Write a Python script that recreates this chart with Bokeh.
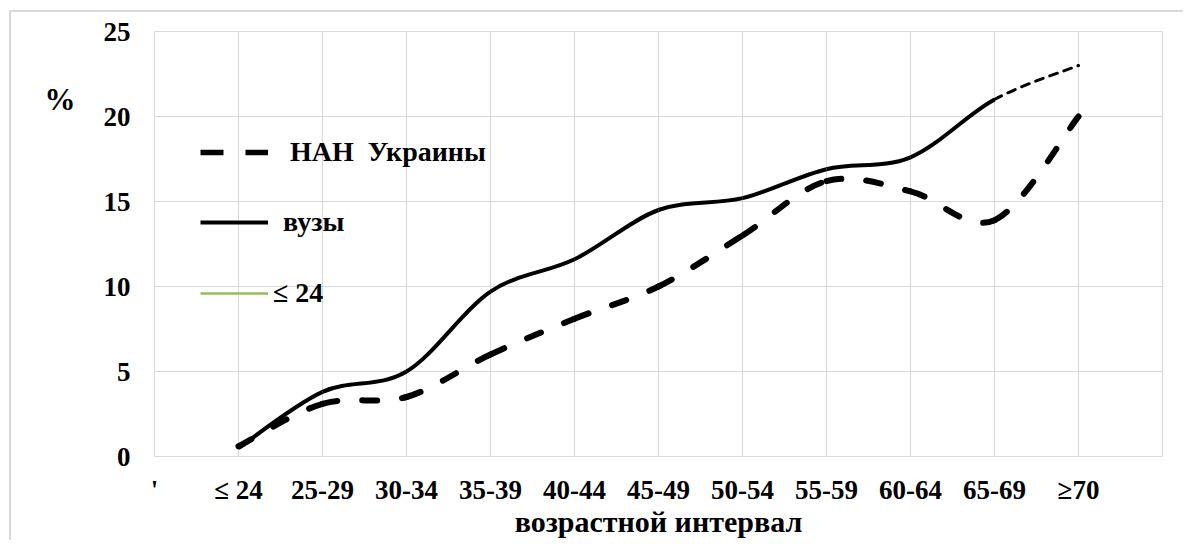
from bokeh.plotting import figure
from bokeh.models import (Range1d, FixedTicker, Legend, LegendItem, ColumnDataSource,
                          LinearAxis)
from bokeh.embed import file_html
from bokeh.resources import INLINE

# ---- data ----
categories = ["'", "≤ 24", "25-29", "30-34", "35-39", "40-44", "45-49",
              "50-54", "55-59", "60-64", "65-69", "≥70"]
nan_ukr = [0.6, 3.1, 3.5, 6.0, 8.1, 10.0, 13.0, 16.2, 15.6, 13.9, 20.0]
vuzy = [0.5, 3.8, 5.0, 9.7, 11.6, 14.5, 15.2, 16.9, 17.6, 21.0, 23.0]
y_ticks = [0, 5, 10, 15, 20, 25]
series_names = ["НАН  Украины", "вузы", "≤ 24"]
x_title = "возрастной интервал"
y_title = "%"
y_title_level = 21

FONT = "Liberation Serif"
NAN = float("nan")


def smooth_segments(ys, start=1):
    """Cubic Bezier segments (Excel-like smoothing) through the data points."""
    pts = [(start + i, v) for i, v in enumerate(ys)]
    n = len(pts)
    d = dict(x0=[], y0=[], x1=[], y1=[], cx0=[], cy0=[], cx1=[], cy1=[])
    for i in range(n - 1):
        p0 = pts[i - 1] if i > 0 else pts[i]
        p1 = pts[i]
        p2 = pts[i + 1]
        p3 = pts[i + 2] if i + 2 < n else pts[i + 1]
        d["x0"].append(p1[0]); d["y0"].append(p1[1])
        d["x1"].append(p2[0]); d["y1"].append(p2[1])
        d["cx0"].append(p1[0] + (p2[0] - p0[0]) / 6.0)
        d["cy0"].append(p1[1] + (p2[1] - p0[1]) / 6.0)
        d["cx1"].append(p2[0] - (p3[0] - p1[0]) / 6.0)
        d["cy1"].append(p2[1] - (p3[1] - p1[1]) / 6.0)
    return d


p = figure(width=1174, height=530, output_backend="svg", toolbar_location=None,
           x_range=Range1d(0, 12), y_range=Range1d(0, 25),
           min_border_left=143, min_border_right=23, min_border_top=19,
           min_border_bottom=86)
p.styles = {"margin-left": "9px", "margin-top": "10px",
            "border-top": "2px solid #d9d9d9", "border-left": "2px solid #d9d9d9"}

p.outline_line_color = "#d9d9d9"
p.outline_line_width = 1
p.background_fill_color = "white"
p.border_fill_color = "white"

# axes
p.xaxis.ticker = FixedTicker(ticks=list(range(len(categories))))
p.xaxis.major_label_overrides = {i: c for i, c in enumerate(categories)}
p.yaxis.ticker = FixedTicker(ticks=y_ticks)
for ax in (p.xaxis, p.yaxis):
    ax.axis_line_color = None
    ax.major_tick_line_color = None
    ax.minor_tick_line_color = None
    ax.major_label_text_font = FONT
    ax.major_label_text_font_style = "bold"
    ax.major_label_text_font_size = "27px"
    ax.major_label_text_color = "black"
p.yaxis.major_label_standoff = 18
p.xaxis.major_label_standoff = 12
p.xaxis.axis_label = x_title
p.xaxis.axis_label_text_font = FONT
p.xaxis.axis_label_text_font_style = "bold"
p.xaxis.axis_label_text_font_size = "30px"
p.xaxis.axis_label_text_color = "black"
p.xaxis.axis_label_standoff = -3

# "%" as a horizontal label on an extra left axis
pct_axis = LinearAxis(ticker=FixedTicker(ticks=[y_title_level]),
                      major_label_overrides={y_title_level: y_title})
pct_axis.axis_line_color = None
pct_axis.major_tick_line_color = None
pct_axis.minor_tick_line_color = None
pct_axis.major_label_text_font = FONT
pct_axis.major_label_text_font_style = "bold"
pct_axis.major_label_text_font_size = "31px"
pct_axis.major_label_text_color = "black"
pct_axis.major_label_standoff = 19
p.add_layout(pct_axis, "left")

# grid
p.xgrid.ticker = FixedTicker(ticks=list(range(1, 12)))
p.ygrid.ticker = FixedTicker(ticks=y_ticks)
p.xgrid.grid_line_color = "#d9d9d9"
p.ygrid.grid_line_color = "#d9d9d9"
p.xgrid.grid_line_width = 1
p.ygrid.grid_line_width = 1

# НАН Украины: dashed smooth curve
src_nan = ColumnDataSource(smooth_segments(nan_ukr))
p.bezier(x0="x0", y0="y0", x1="x1", y1="y1", cx0="cx0", cy0="cy0", cx1="cx1", cy1="cy1",
         source=src_nan, line_color="black", line_width=6, line_dash="15 25",
         line_cap="round")

# вузы: solid smooth curve, last segment thin dashed
seg_v = smooth_segments(vuzy)
solid = {k: v[:-1] for k, v in seg_v.items()}
last = {k: v[-1:] for k, v in seg_v.items()}
p.bezier(x0="x0", y0="y0", x1="x1", y1="y1", cx0="cx0", cy0="cy0", cx1="cx1", cy1="cy1",
         source=ColumnDataSource(solid), line_color="black", line_width=4)
p.bezier(x0="x0", y0="y0", x1="x1", y1="y1", cx0="cx0", cy0="cy0", cx1="cx1", cy1="cy1",
         source=ColumnDataSource(last), line_color="black", line_width=3,
         line_dash="8 7", line_cap="round")

# legend renderers (no visible data)
r_l1 = p.line(x=[NAN], y=[NAN], line_color="black", line_width=5.5, line_dash="23 22")
r_l2 = p.line(x=[NAN], y=[NAN], line_color="black", line_width=4)
r_l3 = p.line(x=[NAN], y=[NAN], line_color="#9bbb59", line_width=2.5)

legend_specs = [(series_names[0], r_l1, 288, 22),
                (series_names[1], r_l2, 218, 15),
                (series_names[2], r_l3, 147, 5)]
for label, rend, ypos, standoff in legend_specs:
    lg = Legend(items=[LegendItem(label=label, renderers=[rend])],
                location=(46, ypos), orientation="vertical",
                glyph_width=68, glyph_height=26, label_height=26,
                spacing=0, padding=0, margin=0, label_standoff=standoff,
                border_line_color=None, background_fill_alpha=0)
    lg.label_text_font = FONT
    lg.label_text_font_style = "bold"
    lg.label_text_font_size = "28px"
    lg.label_text_color = "black"
    p.add_layout(lg)

open("out.html", "w").write(file_html(p, INLINE))
